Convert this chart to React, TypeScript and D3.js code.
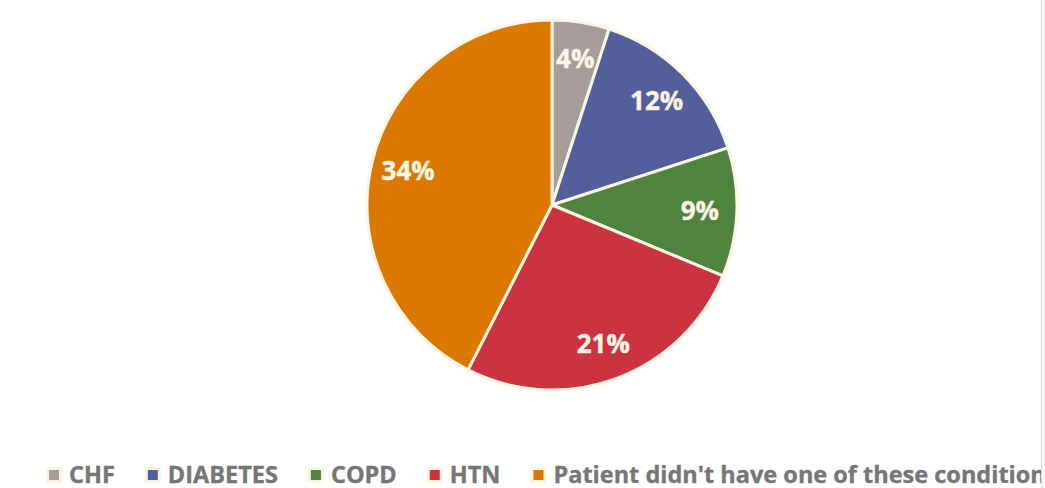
import * as React from 'react';
import * as d3 from 'd3';

const categories = ['CHF', 'DIABETES', 'COPD', 'HTN', "Patient didn't have one of these conditions"];
const values = [4, 12, 9, 21, 34];
const colors = ['#A59D9C', '#525F9B', '#4E843D', '#CC3340', '#DB7800'];

const W = 1045;
const H = 488;

export default function App() {
  const ref = React.useRef<SVGSVGElement>(null);

  React.useEffect(() => {
    const svg = d3.select(ref.current);
    svg.selectAll('*').remove();

    const cx = 552;
    const cy = 205;
    const radius = 185;
    const cream = '#FBF5E4';
    const plotW = 1041;

    svg.append('defs').append('clipPath').attr('id', 'area')
      .append('rect').attr('x', 0).attr('y', 0).attr('width', plotW).attr('height', H);

    svg.append('rect').attr('width', W).attr('height', H).attr('fill', '#f7f7f7');
    svg.append('rect').attr('width', plotW).attr('height', H).attr('fill', '#fff');
    svg.append('line').attr('x1', plotW + 0.5).attr('x2', plotW + 0.5).attr('y1', 0).attr('y2', H)
      .attr('stroke', '#d6d6d6').attr('stroke-width', 1);

    const data = categories.map((c, i) => ({ name: c, value: values[i], color: colors[i] }));
    const pie = d3.pie<any>().sort(null).value(d => d.value);
    const arcs = pie(data);
    const arc = d3.arc<any>().innerRadius(0).outerRadius(radius);
    const labelArc = d3.arc<any>().innerRadius(radius * 0.8).outerRadius(radius * 0.8);

    const g = svg.append('g').attr('transform', `translate(${cx}, ${cy})`);
    g.selectAll('path').data(arcs).enter().append('path')
      .attr('d', arc)
      .attr('fill', d => d.data.color)
      .attr('stroke', cream)
      .attr('stroke-width', 3)
      .attr('stroke-linejoin', 'round');

    g.selectAll('text').data(arcs).enter().append('text')
      .attr('transform', d => `translate(${labelArc.centroid(d)})`)
      .attr('text-anchor', 'middle')
      .attr('dy', '0.36em')
      .attr('font-family', '"Open Sans", sans-serif')
      .attr('font-weight', 700)
      .attr('font-size', '26px')
      .attr('fill', cream)
      .attr('stroke', cream)
      .attr('stroke-width', 0.4)
      .text(d => `${d.data.value}%`);

    // legend, clipped at the plot edge like the original (last entry runs off)
    const legend = svg.append('g').attr('clip-path', 'url(#area)')
      .append('g').attr('transform', 'translate(46, 475)');
    let x = 0;
    data.forEach(d => {
      const item = legend.append('g').attr('transform', `translate(${x}, 0)`);
      item.append('rect').attr('x', 0).attr('y', -8).attr('width', 16).attr('height', 16)
        .attr('fill', '#FAF3DF');
      item.append('rect').attr('x', 3).attr('y', -5).attr('width', 10).attr('height', 10)
        .attr('fill', d.color);
      const t = item.append('text')
        .attr('x', 23)
        .attr('y', 7.5)
        .attr('font-family', '"Open Sans", sans-serif')
        .attr('font-weight', 700)
        .attr('font-size', '23.5px')
        .attr('fill', '#767676')
        .attr('stroke', '#767676')
        .attr('stroke-width', 0.35)
        .text(d.name);
      const w = (t.node() as SVGTextElement).getComputedTextLength();
      x += 23 + w + 30;
    });
  }, []);

  return (
    <svg ref={ref} width={W} height={H}
      style={{ position: 'absolute', left: 0, top: 0, display: 'block' }} />
  );
}
